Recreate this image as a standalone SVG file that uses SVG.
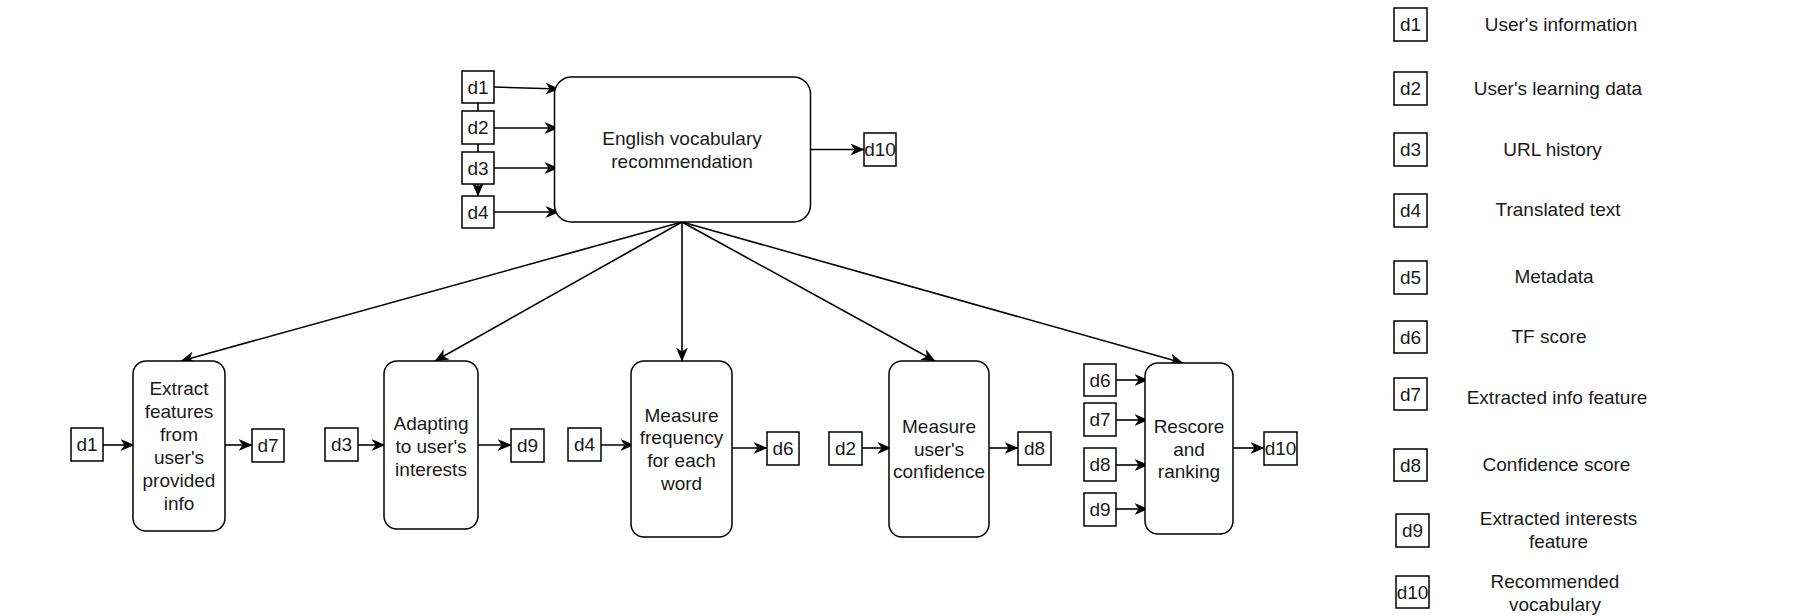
<svg xmlns="http://www.w3.org/2000/svg" width="1793" height="616" viewBox="0 0 1793 616">
<style>
.box{fill:#fff;stroke:#000;stroke-width:1.5}
.proc{fill:#fff;stroke:#000;stroke-width:1.5}
.ln{fill:none;stroke:#000;stroke-width:1.6;marker-end:url(#arr)}
text{font-family:"Liberation Sans",Arial,Helvetica,sans-serif;font-size:19px;fill:#1a1a1a;text-anchor:middle}
</style>
<defs>
<marker id="arr" viewBox="0 0 14 12" refX="13.5" refY="6" markerWidth="14" markerHeight="12" markerUnits="userSpaceOnUse" orient="auto">
<path d="M0,0 L14,6 L0,12 L4,6 z" fill="#000"/>
</marker>
</defs>
<g id="connectors">
<line class="ln" x1="478" y1="103" x2="478" y2="196"/>
<line class="ln" x1="494" y1="87" x2="559" y2="89"/>
<line class="ln" x1="494" y1="128" x2="558" y2="128"/>
<line class="ln" x1="494" y1="168" x2="558" y2="168"/>
<line class="ln" x1="494" y1="212" x2="559" y2="212"/>
<line class="ln" x1="810" y1="149.5" x2="864" y2="149.5"/>
<line class="ln" x1="682" y1="222" x2="181" y2="361"/>
<line class="ln" x1="682" y1="222" x2="435" y2="361"/>
<line class="ln" x1="682" y1="222" x2="682" y2="361"/>
<line class="ln" x1="682" y1="222" x2="935" y2="361"/>
<line class="ln" x1="682" y1="222" x2="1183" y2="363"/>
<line class="ln" x1="103" y1="445" x2="134" y2="445"/>
<line class="ln" x1="225" y1="445" x2="252" y2="445"/>
<line class="ln" x1="358" y1="445" x2="385" y2="445"/>
<line class="ln" x1="478" y1="445" x2="511" y2="445"/>
<line class="ln" x1="601" y1="445" x2="634" y2="445"/>
<line class="ln" x1="732" y1="448" x2="767" y2="448"/>
<line class="ln" x1="862" y1="448" x2="891" y2="448"/>
<line class="ln" x1="989" y1="448" x2="1018" y2="448"/>
<line class="ln" x1="1116" y1="380" x2="1148" y2="380"/>
<line class="ln" x1="1116" y1="420" x2="1148" y2="420"/>
<line class="ln" x1="1116" y1="465" x2="1148" y2="465"/>
<line class="ln" x1="1116" y1="509" x2="1148" y2="509"/>
<line class="ln" x1="1233" y1="448" x2="1264" y2="448"/>
</g>
<g id="main">
<rect class="proc" x="554.5" y="77" width="256" height="145" rx="17"/>
<text x="682" y="145">English vocabulary</text>
<text x="682" y="168">recommendation</text>
</g>
<g id="top-d1"><rect class="box" x="462" y="71" width="32" height="32"/><text x="478" y="93.7">d1</text></g>
<g id="top-d2"><rect class="box" x="462" y="111" width="32" height="33"/><text x="478" y="134.2">d2</text></g>
<g id="top-d3"><rect class="box" x="462" y="152" width="32" height="32"/><text x="478" y="174.7">d3</text></g>
<g id="top-d4"><rect class="box" x="462" y="196" width="32" height="32"/><text x="478" y="218.7">d4</text></g>
<g id="top-d10"><rect class="box" x="864" y="133" width="32" height="33"/><text x="880" y="156.2">d10</text></g>

<g id="extract">
<rect class="proc" x="133" y="361" width="92" height="170" rx="13"/>
<text x="179" y="394.7">Extract</text>
<text x="179" y="417.7">features</text>
<text x="179" y="440.7">from</text>
<text x="179" y="463.7">user's</text>
<text x="179" y="486.7">provided</text>
<text x="179" y="509.7">info</text>
</g>
<g id="b-d1"><rect class="box" x="71" y="428" width="32" height="33"/><text x="87" y="451.2">d1</text></g>
<g id="b-d7"><rect class="box" x="252" y="429" width="32" height="33"/><text x="268" y="452.2">d7</text></g>

<g id="adapting">
<rect class="proc" x="384" y="361" width="94" height="168" rx="13"/>
<text x="431" y="430">Adapting</text>
<text x="431" y="452.7">to user's</text>
<text x="431" y="475.5">interests</text>
</g>
<g id="b-d3"><rect class="box" x="325" y="428" width="33" height="33"/><text x="341.5" y="451.2">d3</text></g>
<g id="b-d9"><rect class="box" x="511" y="429" width="33" height="33"/><text x="527.5" y="452.2">d9</text></g>

<g id="frequency">
<rect class="proc" x="631" y="361" width="101" height="176" rx="13"/>
<text x="681.5" y="421.5">Measure</text>
<text x="681.5" y="444.3">frequency</text>
<text x="681.5" y="467">for each</text>
<text x="681.5" y="489.8">word</text>
</g>
<g id="b-d4"><rect class="box" x="568" y="428" width="33" height="33"/><text x="584.5" y="451.2">d4</text></g>
<g id="b-d6"><rect class="box" x="767" y="432" width="32" height="33"/><text x="783" y="455.2">d6</text></g>

<g id="confidence">
<rect class="proc" x="889" y="361" width="100" height="176" rx="13"/>
<text x="939" y="432.7">Measure</text>
<text x="939" y="455.5">user's</text>
<text x="939" y="478.3">confidence</text>
</g>
<g id="b-d2"><rect class="box" x="829" y="432" width="33" height="33"/><text x="845.5" y="455.2">d2</text></g>
<g id="b-d8"><rect class="box" x="1018" y="432" width="33" height="33"/><text x="1034.5" y="455.2">d8</text></g>

<g id="rescore">
<rect class="proc" x="1145" y="363" width="88" height="171" rx="13"/>
<text x="1189" y="432.7">Rescore</text>
<text x="1189" y="455.5">and</text>
<text x="1189" y="478.3">ranking</text>
</g>
<g id="r-d6"><rect class="box" x="1084" y="364" width="32" height="32"/><text x="1100" y="386.7">d6</text></g>
<g id="r-d7"><rect class="box" x="1084" y="403" width="32" height="33"/><text x="1100" y="426.2">d7</text></g>
<g id="r-d8"><rect class="box" x="1084" y="448" width="32" height="33"/><text x="1100" y="471.2">d8</text></g>
<g id="r-d9"><rect class="box" x="1084" y="493" width="32" height="33"/><text x="1100" y="516.2">d9</text></g>
<g id="r-d10"><rect class="box" x="1264" y="432" width="33" height="33"/><text x="1280.5" y="455.2">d10</text></g>

<g id="legend">
<g id="lg-d1"><rect class="box" x="1394" y="8" width="33" height="33"/><text x="1410.5" y="31.2">d1</text><text x="1561" y="30.7">User's information</text></g>
<g id="lg-d2"><rect class="box" x="1394" y="72" width="33" height="33"/><text x="1410.5" y="95.2">d2</text><text x="1558" y="95">User's learning data</text></g>
<g id="lg-d3"><rect class="box" x="1394" y="133" width="33" height="33"/><text x="1410.5" y="156.2">d3</text><text x="1552.5" y="155.7">URL history</text></g>
<g id="lg-d4"><rect class="box" x="1394" y="194" width="33" height="33"/><text x="1410.5" y="217.2">d4</text><text x="1558" y="215.7">Translated text</text></g>
<g id="lg-d5"><rect class="box" x="1394" y="261" width="33" height="33"/><text x="1410.5" y="284.2">d5</text><text x="1554" y="283.4">Metadata</text></g>
<g id="lg-d6"><rect class="box" x="1394" y="321" width="33" height="32"/><text x="1410.5" y="343.7">d6</text><text x="1549" y="342.7">TF score</text></g>
<g id="lg-d7"><rect class="box" x="1394" y="378" width="33" height="32"/><text x="1410.5" y="400.7">d7</text><text x="1557" y="404">Extracted info feature</text></g>
<g id="lg-d8"><rect class="box" x="1394" y="449" width="33" height="32"/><text x="1410.5" y="471.7">d8</text><text x="1556.5" y="471">Confidence score</text></g>
<g id="lg-d9"><rect class="box" x="1396" y="514" width="33" height="33"/><text x="1412.5" y="537.2">d9</text><text x="1558.5" y="525">Extracted interests</text><text x="1558.5" y="547.7">feature</text></g>
<g id="lg-d10"><rect class="box" x="1396" y="576" width="33" height="32"/><text x="1412.5" y="598.7">d10</text><text x="1555" y="588.4">Recommended</text><text x="1555" y="611.4">vocabulary</text></g>
</g>
</svg>
